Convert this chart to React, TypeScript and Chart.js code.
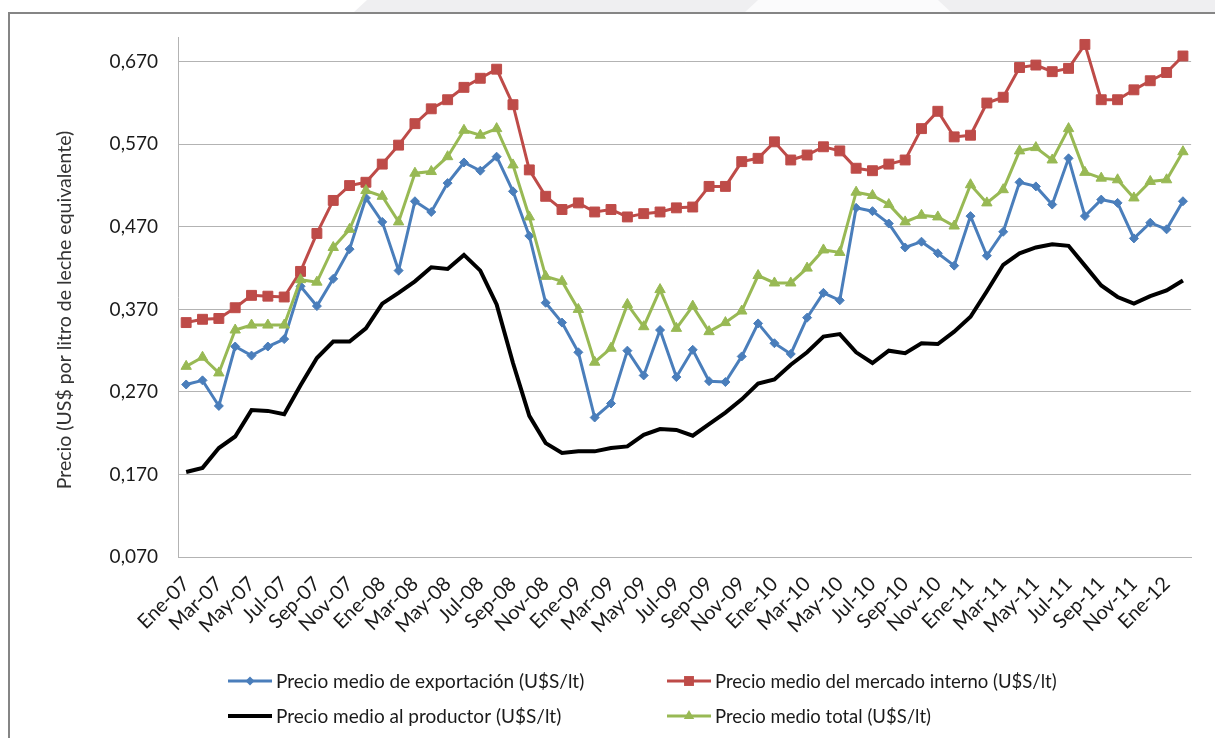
import React, { useEffect, useRef } from 'react';
import { Chart, registerables } from 'chart.js';

Chart.register(...registerables);

const MONTH_NAMES = ['Ene', 'Feb', 'Mar', 'Abr', 'May', 'Jun', 'Jul', 'Ago', 'Sep', 'Oct', 'Nov', 'Dic'];
const YEARS = ['07', '08', '09', '10', '11', '12'];
const N_POINTS = 62; // Ene-07 .. Feb-12
const CATEGORIES: string[] = YEARS.flatMap((y) => MONTH_NAMES.map((m) => `${m}-${y}`)).slice(0, N_POINTS);

const Y_MIN = 0.07;
const Y_MAX = 0.7;
const Y_TICKS = [0.07, 0.17, 0.27, 0.37, 0.47, 0.57, 0.67];

const EXPORTACION = [
  0.279, 0.284, 0.253, 0.325, 0.314, 0.325, 0.334, 0.398, 0.374, 0.407, 0.443, 0.505,
  0.476, 0.417, 0.501, 0.488, 0.523, 0.548, 0.538, 0.555, 0.513, 0.459, 0.378, 0.354,
  0.318, 0.239, 0.256, 0.320, 0.290, 0.345, 0.288, 0.321, 0.283, 0.282, 0.313, 0.353,
  0.329, 0.316, 0.360, 0.390, 0.381, 0.493, 0.489, 0.474, 0.445, 0.452, 0.438, 0.423,
  0.483, 0.435, 0.464, 0.524, 0.519, 0.497, 0.553, 0.483, 0.503, 0.499, 0.456, 0.475,
  0.467, 0.501,
];

const MERCADO_INTERNO = [
  0.354, 0.358, 0.359, 0.372, 0.387, 0.386, 0.385, 0.416, 0.462, 0.502, 0.520, 0.524,
  0.546, 0.569, 0.595, 0.613, 0.624, 0.639, 0.650, 0.661, 0.618, 0.539, 0.507, 0.491,
  0.499, 0.488, 0.491, 0.482, 0.486, 0.488, 0.493, 0.494, 0.519, 0.519, 0.549, 0.553,
  0.573, 0.551, 0.557, 0.567, 0.562, 0.541, 0.538, 0.546, 0.551, 0.589, 0.610, 0.579,
  0.581, 0.620, 0.627, 0.663, 0.666, 0.658, 0.662, 0.691, 0.624, 0.624, 0.636, 0.647,
  0.657, 0.677,
];

const PRODUCTOR = [
  0.173, 0.178, 0.202, 0.216, 0.248, 0.247, 0.243, 0.278, 0.311, 0.331, 0.331, 0.347,
  0.377, 0.390, 0.404, 0.421, 0.419, 0.436, 0.417, 0.376, 0.305, 0.241, 0.208, 0.196,
  0.198, 0.198, 0.202, 0.204, 0.218, 0.225, 0.224, 0.217, 0.231, 0.245, 0.261, 0.280,
  0.285, 0.303, 0.318, 0.337, 0.340, 0.318, 0.305, 0.320, 0.317, 0.329, 0.328, 0.343,
  0.361, 0.392, 0.424, 0.438, 0.445, 0.449, 0.447, 0.423, 0.399, 0.385, 0.377, 0.386,
  0.393, 0.405,
];

const TOTAL = [
  0.301, 0.312, 0.293, 0.345, 0.351, 0.351, 0.351, 0.406, 0.403, 0.445, 0.467, 0.514,
  0.507, 0.476, 0.535, 0.537, 0.555, 0.587, 0.581, 0.589, 0.545, 0.482, 0.410, 0.404,
  0.370, 0.306, 0.323, 0.376, 0.349, 0.394, 0.347, 0.374, 0.343, 0.354, 0.368, 0.411,
  0.402, 0.402, 0.420, 0.442, 0.439, 0.512, 0.508, 0.497, 0.476, 0.484, 0.482, 0.471,
  0.521, 0.499, 0.515, 0.562, 0.566, 0.551, 0.589, 0.536, 0.529, 0.527, 0.505, 0.525,
  0.527, 0.561,
];

const LABELS = [
  'Precio medio de exportación (U$S/lt)',
  'Precio medio del mercado interno (U$S/lt)',
  'Precio medio al productor (U$S/lt)',
  'Precio medio total (U$S/lt)',
];
const Y_TITLE = 'Precio (US$ por litro de leche equivalente)';

const FONT_FAMILY = 'Lato, "Noto Sans", sans-serif';
const TEXT_COLOR = '#1a1a1a';
const GRID_COLOR = '#b3b3b3';

type SeriesStyle = { color: string; pointStyle: any; radius: number; width: number; order: number };
const STYLES: SeriesStyle[] = [
  { color: '#4a7ebb', pointStyle: 'rectRot', radius: 4.5, width: 3, order: 4 },
  { color: '#be4b48', pointStyle: 'rect', radius: 7, width: 3, order: 3 },
  { color: '#000000', pointStyle: false, radius: 0, width: 4, order: 2 },
  { color: '#98b954', pointStyle: 'triangle', radius: 6, width: 3, order: 1 },
];
const SERIES = [EXPORTACION, MERCADO_INTERNO, PRODUCTOR, TOTAL];

// legend layout (2 columns x 2 rows)
const LEGEND_COLS = [228, 667];
const LEGEND_ROWS = [681, 716];

function drawMarker(ctx: CanvasRenderingContext2D, style: any, x: number, y: number, r: number) {
  ctx.beginPath();
  if (style === 'rect') {
    const s = Math.SQRT1_2 * r;
    ctx.rect(x - s, y - s, 2 * s, 2 * s);
  } else if (style === 'rectRot') {
    ctx.moveTo(x, y - r);
    ctx.lineTo(x + r, y);
    ctx.lineTo(x, y + r);
    ctx.lineTo(x - r, y);
    ctx.closePath();
  } else if (style === 'triangle') {
    ctx.moveTo(x, y - r);
    ctx.lineTo(x + r * 0.866, y + r * 0.5);
    ctx.lineTo(x - r * 0.866, y + r * 0.5);
    ctx.closePath();
  } else {
    return;
  }
  ctx.fill();
}

const framePlugin = {
  id: 'frame',
  beforeDraw(chart: any) {
    const { ctx, width, height } = chart;
    ctx.save();
    ctx.fillStyle = '#ffffff';
    ctx.fillRect(0, 0, width, height);
    // light band at top with diagonal shapes
    ctx.fillStyle = '#efeff1';
    ctx.beginPath();
    ctx.moveTo(367, 0);
    ctx.lineTo(width, 0);
    ctx.lineTo(width, 13);
    ctx.lineTo(353, 13);
    ctx.closePath();
    ctx.fill();
    ctx.fillStyle = '#fbfbfc';
    ctx.beginPath();
    ctx.moveTo(758, 0);
    ctx.lineTo(938, 0);
    ctx.lineTo(952, 13);
    ctx.lineTo(744, 13);
    ctx.closePath();
    ctx.fill();
    // frame border
    ctx.strokeStyle = '#858585';
    ctx.lineWidth = 2;
    ctx.beginPath();
    ctx.moveTo(width + 2, 13);
    ctx.lineTo(9, 13);
    ctx.lineTo(9, height + 2);
    ctx.stroke();
    ctx.restore();
  },
  afterDraw(chart: any) {
    const { ctx } = chart;
    ctx.save();
    // y axis title
    ctx.translate(65, 310);
    ctx.rotate(-Math.PI / 2);
    ctx.font = `19.5px ${FONT_FAMILY}`;
    ctx.fillStyle = '#333333';
    ctx.textAlign = 'center';
    ctx.textBaseline = 'middle';
    ctx.fillText(Y_TITLE, 0, 0);
    ctx.restore();

    ctx.save();
    ctx.textBaseline = 'middle';
    ctx.textAlign = 'left';
    chart.data.datasets.forEach((ds: any, i: number) => {
      const st = STYLES[i];
      const x0 = LEGEND_COLS[i % 2];
      const y = LEGEND_ROWS[Math.floor(i / 2)];
      ctx.strokeStyle = st.color;
      ctx.lineWidth = st.width;
      ctx.beginPath();
      ctx.moveTo(x0, y);
      ctx.lineTo(x0 + 44, y);
      ctx.stroke();
      ctx.fillStyle = st.color;
      drawMarker(ctx, st.pointStyle, x0 + 22, y, st.radius);
      ctx.fillStyle = TEXT_COLOR;
      ctx.font = `${i % 2 === 0 ? 19 : 18.5}px ${FONT_FAMILY}`;
      ctx.fillText(ds.label, x0 + 48, y + 1);
    });
    ctx.restore();
  },
};

export default function App() {
  const canvasRef = useRef<HTMLCanvasElement | null>(null);

  useEffect(() => {
    document.body.style.margin = '0';
    const canvas = canvasRef.current;
    if (!canvas) return;
    const chart = new Chart(canvas, {
      type: 'line',
      data: {
        labels: CATEGORIES,
        datasets: SERIES.map((values, i) => ({
          label: LABELS[i],
          data: values,
          borderColor: STYLES[i].color,
          backgroundColor: STYLES[i].color,
          borderWidth: STYLES[i].width,
          pointStyle: STYLES[i].pointStyle,
          pointRadius: STYLES[i].radius,
          pointHoverRadius: STYLES[i].radius,
          pointBackgroundColor: STYLES[i].color,
          pointBorderColor: STYLES[i].color,
          pointBorderWidth: 1,
          tension: 0,
          fill: false,
          order: STYLES[i].order,
        })),
      },
      options: {
        animation: false,
        responsive: false,
        devicePixelRatio: 1,
        layout: { padding: { top: 37, right: 11, left: 0, bottom: 0 } },
        plugins: {
          legend: { display: false },
          tooltip: { enabled: false },
        },
        scales: {
          x: {
            type: 'category',
            offset: true,
            grid: { display: false, drawTicks: false },
            border: { display: true, color: GRID_COLOR, width: 1 },
            ticks: {
              autoSkip: false,
              maxRotation: 45,
              minRotation: 45,
              padding: 15,
              color: TEXT_COLOR,
              font: { family: FONT_FAMILY, size: 20 },
              callback: function (this: any, value: any, index: number) {
                return index % 2 === 0 ? this.getLabelForValue(value) : '';
              },
            },
            afterFit: (scale: any) => {
              scale.height = 181;
            },
          },
          y: {
            min: Y_MIN,
            max: Y_MAX,
            grid: { color: GRID_COLOR, lineWidth: 1, drawTicks: false },
            border: { display: true, color: GRID_COLOR, width: 1 },
            ticks: {
              padding: 20,
              color: TEXT_COLOR,
              font: { family: FONT_FAMILY, size: 19 },
              callback: (value: any) => Number(value).toFixed(3).replace('.', ','),
            },
            afterBuildTicks: (scale: any) => {
              scale.ticks = Y_TICKS.map((v) => ({ value: v }));
            },
            afterFit: (scale: any) => {
              scale.width = 178;
            },
          },
        },
      },
      plugins: [framePlugin],
    });
    return () => chart.destroy();
  }, []);

  return (
    <div style={{ width: 1215, height: 738 }}>
      <canvas ref={canvasRef} width={1215} height={738} style={{ display: 'block' }} />
    </div>
  );
}
